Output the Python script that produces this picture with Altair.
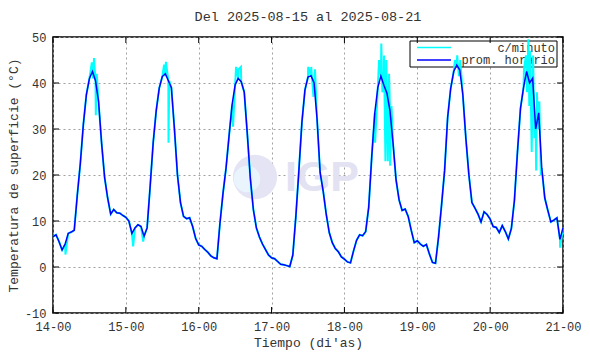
import json
import altair as alt
import pandas as pd

# ---------------- data ----------------
hourly_14 = [6.6, 7.0, 5.5, 3.7, 5.0, 7.3, 7.6, 8.0, 15.6, 22.5, 31.0, 37.5, 41.0, 42.5,
             40.5, 36.0, 27.0, 19.5, 15.0, 11.5, 12.5, 11.8, 11.7, 11.2, 10.8]
hourly_15 = [10.0, 7.3, 8.5, 9.2, 8.8, 6.7, 8.5, 17.5, 27.0, 34.0, 38.9, 41.4, 42.0, 40.5,
             39.0, 30.0, 20.0, 14.0, 11.0, 10.5, 10.7, 8.8, 6.2, 4.8]
hourly_16 = [4.5, 3.8, 3.2, 2.4, 2.0, 1.8, 9.5, 16.0, 21.5, 28.5, 35.3, 39.6, 41.0, 40.3,
             38.0, 29.0, 19.3, 12.5, 8.5, 6.5, 5.0, 3.8, 2.6, 2.0]
hourly_17 = [1.8, 1.2, 0.6, 0.5, 0.3, 0.1, 2.6, 11.0, 21.0, 31.5, 38.5, 41.3, 41.6, 40.0,
             32.0, 20.5, 16.5, 11.5, 7.5, 5.3, 4.0, 3.3, 2.2, 1.7]
hourly_18 = [1.1, 0.9, 3.5, 5.8, 7.0, 6.8, 7.7, 13.0, 24.0, 33.5, 39.0, 41.5, 39.5, 37.8,
             34.0, 27.0, 19.0, 14.6, 12.3, 12.6, 11.0, 8.0, 5.3, 5.7]
hourly_19 = [5.0, 4.5, 4.9, 2.8, 1.0, 0.8, 6.5, 13.5, 21.0, 32.5, 38.8, 42.5, 43.9, 42.8,
             37.5, 28.0, 20.0, 14.0, 12.8, 11.5, 9.8, 12.0, 11.4, 10.4]
hourly_20 = [8.8, 8.6, 7.5, 9.0, 7.7, 6.1, 8.4, 14.5, 25.0, 34.5, 39.0, 42.5, 40.0, 41.0,
             30.0, 33.5, 21.5, 15.0, 12.3, 9.8, 10.2, 10.7, 6.0, 8.5]

hourly = hourly_14 + hourly_15 + hourly_16 + hourly_17 + hourly_18 + hourly_19 + hourly_20
hours = list(range(len(hourly)))

# per-minute excursions visible around the hourly curve
spike_h = [4.1, 12.8, 13.2, 13.5, 14.1, 14.4,
           26.4, 29.7,
           36.6, 36.9, 37.2, 38.05, 38.3,
           59.3, 60.3, 61.15, 61.9,
           84.05, 85.05, 85.8, 86.3,
           106.1, 107.4, 108.15, 108.5, 109.05, 109.5, 109.8, 110.3, 110.7, 111.05, 111.5,
           132.4, 133.15, 133.7, 134.15,
           155.15, 155.8, 156.15, 156.6, 156.9, 157.15, 157.7, 158.15, 158.6, 159.15,
           159.4, 159.9, 160.2, 160.7,
           167.05]
spike_v = [2.7, 44.5, 41.0, 45.4, 33.0, 42.0,
           4.5, 5.5,
           44.0, 41.5, 44.6, 27.0, 40.5,
           30.5, 43.5, 43.0, 43.5,
           43.5, 43.5, 37.0, 43.0,
           27.0, 45.0, 48.6, 38.0, 46.0, 23.0, 45.0, 23.0, 42.0, 22.0, 35.0,
           45.0, 46.0, 41.5, 45.0,
           43.0, 46.0, 38.0, 49.5, 35.0, 47.0, 25.0, 46.0, 28.0, 21.0,
           38.0, 30.0, 36.0, 20.0,
           4.2]

x_tick_values = [0, 24, 48, 72, 96, 120, 144, 168]
x_tick_labels = ["14-00", "15-00", "16-00", "17-00", "18-00", "19-00", "20-00", "21-00"]
y_tick_values = [-10, 0, 10, 20, 30, 40, 50]
legend_labels = ["c/minuto", "prom. horario"]
title_text = "Del 2025-08-15 al 2025-08-21"
x_title = "Tiempo (di'as)"
y_title = "Temperatura de superficie (°C)"
watermark = "IGP"

# ---------------- chart ----------------
W, H = 510, 276
FONT = "Liberation Mono"
TXT = "#333333"
CYAN = "#00ffff"
BLUE = "#0000ff"

hourly_df = pd.DataFrame({"h": hours, "v": hourly})
minute_df = pd.concat([hourly_df, pd.DataFrame({"h": spike_h, "v": spike_v})]).sort_values("h")
xt_df = pd.DataFrame({"h": x_tick_values})
yt_df = pd.DataFrame({"v": y_tick_values})

xscale = alt.Scale(domain=[0, 168], nice=False, zero=False)
yscale = alt.Scale(domain=[-10, 50], nice=False, zero=False)

label_expr = f"{json.dumps(x_tick_labels)}[indexof({json.dumps(x_tick_values)}, datum.value)]"

x_axis = alt.Axis(values=x_tick_values, labelExpr=label_expr, grid=True,
                  gridDash=[2, 3], gridColor="#a0a0a0", gridWidth=1,
                  ticks=False, domain=False, labelFont=FONT, labelFontSize=12,
                  labelColor=TXT, labelPadding=8, labelFlush=False,
                  title=x_title, titleFont=FONT, titleFontSize=13,
                  titleFontWeight="normal", titleColor=TXT, titlePadding=4)
y_axis = alt.Axis(values=y_tick_values, labelExpr="datum.value + ''", grid=True,
                  gridDash=[2, 3], gridColor="#a0a0a0", gridWidth=1,
                  ticks=False, domain=False, labelFont=FONT, labelFontSize=12,
                  labelColor=TXT, labelPadding=7,
                  title=y_title, titleFont=FONT, titleFontSize=13,
                  titleFontWeight="normal", titleColor=TXT, titlePadding=4)


def X():
    return alt.X("h:Q", scale=xscale, axis=x_axis)


def Y():
    return alt.Y("v:Q", scale=yscale, axis=y_axis)


one = hourly_df.head(1)

title_mark = alt.Chart(one).mark_text(
    font=FONT, fontSize=13.5, color=TXT, align="center", baseline="middle").encode(
    x=alt.value(W / 2), y=alt.value(-20), text=alt.value(title_text))

logo_circle = alt.Chart(one).mark_circle(
    size=1960, color="#e4e4f5", opacity=1).encode(x=alt.value(202), y=alt.value(140))
logo_inner = alt.Chart(one).mark_circle(
    size=700, color="#eaf4fd", opacity=1).encode(x=alt.value(194), y=alt.value(142))
logo_text = alt.Chart(one).mark_text(
    font="Liberation Sans", fontWeight="bold", fontSize=43, color="#e2e2f3",
    align="center", baseline="middle").encode(
    x=alt.value(269), y=alt.value(141), text=alt.value(watermark))

legend_box = alt.Chart(one).mark_rect(
    fill="white", stroke="black", strokeWidth=1).encode(
    x=alt.value(357), x2=alt.value(504), y=alt.value(4), y2=alt.value(30))
leg_c = alt.Chart(one).mark_rule(color=CYAN, strokeWidth=1.5).encode(
    x=alt.value(364), x2=alt.value(398), y=alt.value(10.5))
leg_b = alt.Chart(one).mark_rule(color=BLUE, strokeWidth=1.5).encode(
    x=alt.value(364), x2=alt.value(398), y=alt.value(23))
leg_t1 = alt.Chart(one).mark_text(
    font=FONT, fontSize=12, color=TXT, align="right", baseline="middle").encode(
    x=alt.value(502), y=alt.value(10.5), text=alt.value(legend_labels[0]))
leg_t2 = alt.Chart(one).mark_text(
    font=FONT, fontSize=12, color=TXT, align="right", baseline="middle").encode(
    x=alt.value(502), y=alt.value(23), text=alt.value(legend_labels[1]))

minute_line = alt.Chart(minute_df).mark_line(color=CYAN, strokeWidth=2).encode(
    x=X(), y=Y(), order="h:Q")
hourly_line = alt.Chart(hourly_df).mark_line(color=BLUE, strokeWidth=1.5).encode(
    x=X(), y=Y())

tick_b = alt.Chart(xt_df).mark_rule(color="black", strokeWidth=1).encode(
    x=X(), y=alt.value(H), y2=alt.value(H - 6))
tick_t = alt.Chart(xt_df).mark_rule(color="black", strokeWidth=1).encode(
    x=X(), y=alt.value(0), y2=alt.value(6))
tick_l = alt.Chart(yt_df).mark_rule(color="black", strokeWidth=1).encode(
    y=Y(), x=alt.value(0), x2=alt.value(6))
tick_r = alt.Chart(yt_df).mark_rule(color="black", strokeWidth=1).encode(
    y=Y(), x=alt.value(W), x2=alt.value(W - 6))

chart = alt.layer(
    title_mark, logo_circle, logo_inner, logo_text, legend_box, leg_c, leg_b, leg_t1, leg_t2,
    minute_line, hourly_line, tick_b, tick_t, tick_l, tick_r,
).properties(
    width=W, height=H,
    autosize=alt.AutoSizeParams(type="none"),
    padding={"left": 45, "top": 29, "right": 19, "bottom": 38},
).configure_view(stroke="black", strokeWidth=1.5)

chart.save("out.html", embed_options={"renderer": "svg", "actions": False})
